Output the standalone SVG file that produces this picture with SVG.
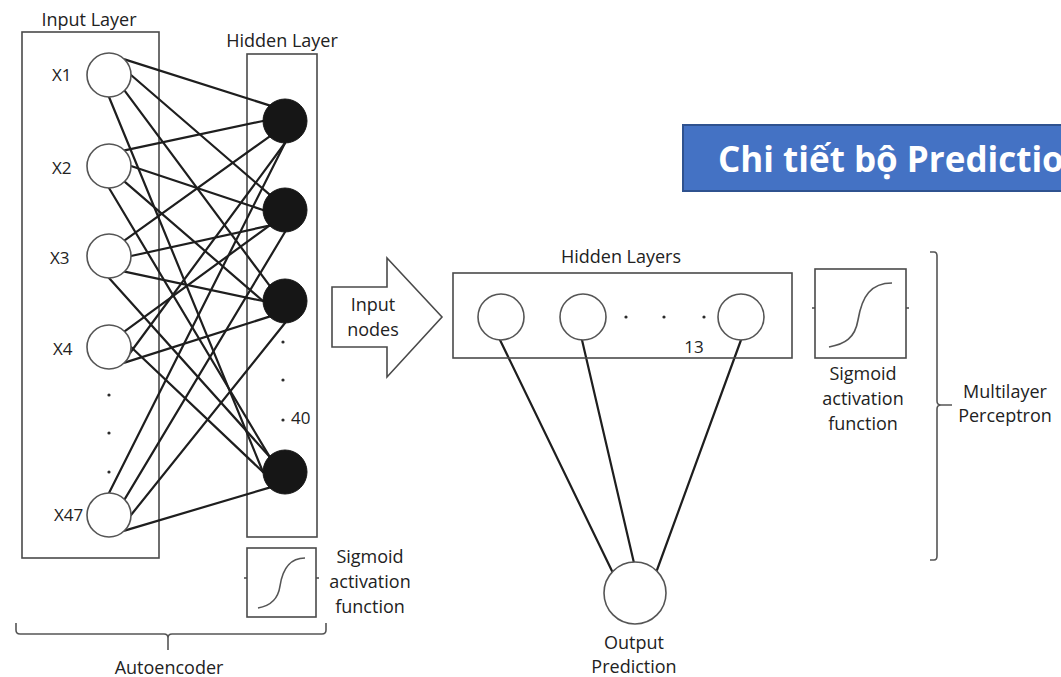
<svg xmlns="http://www.w3.org/2000/svg" width="1061" height="677" viewBox="0 0 1061 677">
  <style>
    text { font-family: "Open Sans", "Noto Sans", "Liberation Sans", sans-serif; fill: #222222; }
    .lbl { font-size: 17px; }
    .hd { font-size: 18px; }
    .mid { text-anchor: middle; }
    .frame { fill: none; stroke: #4a4a4a; stroke-width: 1.6; }
    .in { fill: #ffffff; stroke: #555555; stroke-width: 1.6; }
    .hid { fill: #161616; stroke: #161616; stroke-width: 1; }
    .edge { stroke: #1e1e1e; stroke-width: 2.2; fill: none; stroke-linecap: round; }
    .dot { fill: #2b2b2b; }
    .sig { fill: none; stroke: #555555; stroke-width: 1.6; }
    .brace { fill: none; stroke: #555555; stroke-width: 1.6; }
  </style>

  <rect width="1061" height="677" fill="#ffffff"/>

  <!-- Autoencoder: layer frames -->
  <g id="input-layer">
    <rect class="frame" x="22" y="32" width="137" height="526"/>
    <text class="hd mid" x="89" y="26">Input Layer</text>
  </g>
  <g id="hidden-layer">
    <rect class="frame" x="247" y="54" width="70" height="483"/>
    <text class="hd mid" x="282" y="47">Hidden Layer</text>
  </g>

  <!-- fully connected weights, input -> hidden -->
  <g id="connectors">
    <line class="edge" x1="124.6" y1="59.4" x2="269.4" y2="105.4"/>
    <line class="edge" x1="131" y1="75" x2="269.4" y2="194.4"/>
    <line class="edge" x1="124.6" y1="90.6" x2="269.4" y2="285.4"/>
    <line class="edge" x1="109" y1="97" x2="263" y2="472"/>

    <line class="edge" x1="124.6" y1="150.4" x2="263" y2="121"/>
    <line class="edge" x1="131" y1="166" x2="263" y2="210"/>
    <line class="edge" x1="124.6" y1="181.6" x2="263" y2="301"/>
    <line class="edge" x1="109" y1="188" x2="269.4" y2="456.4"/>

    <line class="edge" x1="124.6" y1="240.4" x2="269.4" y2="136.6"/>
    <line class="edge" x1="131" y1="256" x2="269.4" y2="225.6"/>
    <line class="edge" x1="124.6" y1="271.6" x2="263" y2="301"/>
    <line class="edge" x1="109" y1="278" x2="269.4" y2="456.4"/>

    <line class="edge" x1="124.6" y1="331.4" x2="269.4" y2="225.6"/>
    <line class="edge" x1="130" y1="353" x2="285" y2="143"/>
    <line class="edge" x1="124.6" y1="362.6" x2="269.4" y2="316.6"/>
    <line class="edge" x1="131" y1="347" x2="263" y2="472"/>

    <line class="edge" x1="109" y1="493" x2="285" y2="143"/>
    <line class="edge" x1="124.6" y1="499.4" x2="285" y2="232"/>
    <line class="edge" x1="131" y1="515" x2="285" y2="323"/>
    <line class="edge" x1="124.6" y1="530.6" x2="269.4" y2="487.6"/>

    <!-- MLP hidden units -> output -->
    <line class="edge" x1="500" y1="340" x2="612" y2="571"/>
    <line class="edge" x1="582" y1="340" x2="634" y2="563"/>
    <line class="edge" x1="741" y1="340" x2="657" y2="570"/>
  </g>

  <!-- input units -->
  <g id="x1"><circle class="in" cx="109" cy="75" r="22"/><text class="lbl" x="52" y="81">X1</text></g>
  <g id="x2"><circle class="in" cx="109" cy="166" r="22"/><text class="lbl" x="52" y="174">X2</text></g>
  <g id="x3"><circle class="in" cx="109" cy="256" r="22"/><text class="lbl" x="50" y="264">X3</text></g>
  <g id="x4"><circle class="in" cx="109" cy="347" r="22"/><text class="lbl" x="53" y="355">X4</text></g>
  <g id="x-dots">
    <circle class="dot" cx="109" cy="395" r="1.6"/>
    <circle class="dot" cx="109" cy="433" r="1.6"/>
    <circle class="dot" cx="109" cy="472" r="1.6"/>
  </g>
  <g id="x47"><circle class="in" cx="109" cy="515" r="22"/><text class="lbl" x="54" y="521">X47</text></g>

  <!-- hidden units -->
  <g id="h1"><circle class="hid" cx="285" cy="121" r="22"/></g>
  <g id="h2"><circle class="hid" cx="285" cy="210" r="22"/></g>
  <g id="h3"><circle class="hid" cx="285" cy="301" r="22"/></g>
  <g id="h-dots">
    <circle class="dot" cx="283" cy="342" r="1.6"/>
    <circle class="dot" cx="283" cy="380" r="1.6"/>
    <circle class="dot" cx="283" cy="420" r="1.6"/>
    <text class="lbl" x="291" y="424">40</text>
  </g>
  <g id="h40"><circle class="hid" cx="285" cy="472" r="22"/></g>

  <!-- autoencoder activation -->
  <g id="sigmoid-ae">
    <rect class="frame" x="247" y="548" width="69" height="69"/>
    <path class="frame" d="M244,578 H247 M316,578 H319"/>
    <path class="sig" d="M258,608 C270,606 278,600 280,586 C283,566 292,558 305,558"/>
    <text class="hd mid" x="370" y="563">Sigmoid</text>
    <text class="hd mid" x="370" y="588">activation</text>
    <text class="hd mid" x="370" y="613">function</text>
  </g>

  <g id="autoencoder-brace">
    <path class="brace" d="M16,623 V630 Q16,634 20,634 H164 Q168,634 168,638 V650 M168,638 Q168,634 172,634 H322 Q326,634 326,630 V623"/>
    <text class="hd mid" x="169" y="674">Autoencoder</text>
  </g>

  <!-- hand-off arrow -->
  <g id="input-nodes">
    <polygon class="frame" points="332,287 387,287 387,258 442,317 387,377 387,347 332,347" fill="#ffffff"/>
    <text class="hd mid" x="373" y="311">Input</text>
    <text class="hd mid" x="373" y="336">nodes</text>
  </g>

  <!-- title banner, running off the right edge -->
  <g id="title">
    <rect x="683" y="125" width="400" height="66" fill="#4472C4" stroke="#2F528F" stroke-width="2"/>
    <text x="718" y="172" style="font-size:35px;font-weight:bold;fill:#ffffff">Chi tiết bộ Prediction</text>
  </g>

  <!-- multilayer perceptron -->
  <g id="mlp-hidden">
    <rect class="frame" x="453" y="273" width="339" height="85"/>
    <text class="hd mid" x="621" y="263">Hidden Layers</text>
    <circle class="in" cx="501" cy="317" r="23"/>
    <circle class="in" cx="583" cy="317" r="23"/>
    <circle class="dot" cx="626" cy="317" r="1.6"/>
    <circle class="dot" cx="664" cy="317" r="1.6"/>
    <circle class="dot" cx="704" cy="317" r="1.6"/>
    <circle class="in" cx="741" cy="317" r="23"/>
    <text class="lbl mid" x="694" y="353">13</text>
  </g>

  <g id="sigmoid-mlp">
    <rect class="frame" x="815" y="269" width="91" height="89"/>
    <path class="frame" d="M812,308 H815 M906,308 H909"/>
    <path class="sig" d="M829,347 C845,344 855,338 858,320 C862,296 871,283 892,283"/>
    <text class="hd mid" x="863" y="380">Sigmoid</text>
    <text class="hd mid" x="863" y="405">activation</text>
    <text class="hd mid" x="863" y="430">function</text>
  </g>

  <g id="output">
    <circle class="in" cx="635" cy="593" r="31"/>
    <text class="hd mid" x="634" y="649">Output</text>
    <text class="hd mid" x="634" y="673">Prediction</text>
  </g>

  <g id="mlp-brace">
    <path class="brace" d="M930,252 H934 Q937,252 937,256 V401 Q937,405 941,405 H952 M941,405 Q937,405 937,409 V556 Q937,560 934,560 H930"/>
    <text class="hd mid" x="1005" y="398">Multilayer</text>
    <text class="hd mid" x="1005" y="422">Perceptron</text>
  </g>
</svg>
